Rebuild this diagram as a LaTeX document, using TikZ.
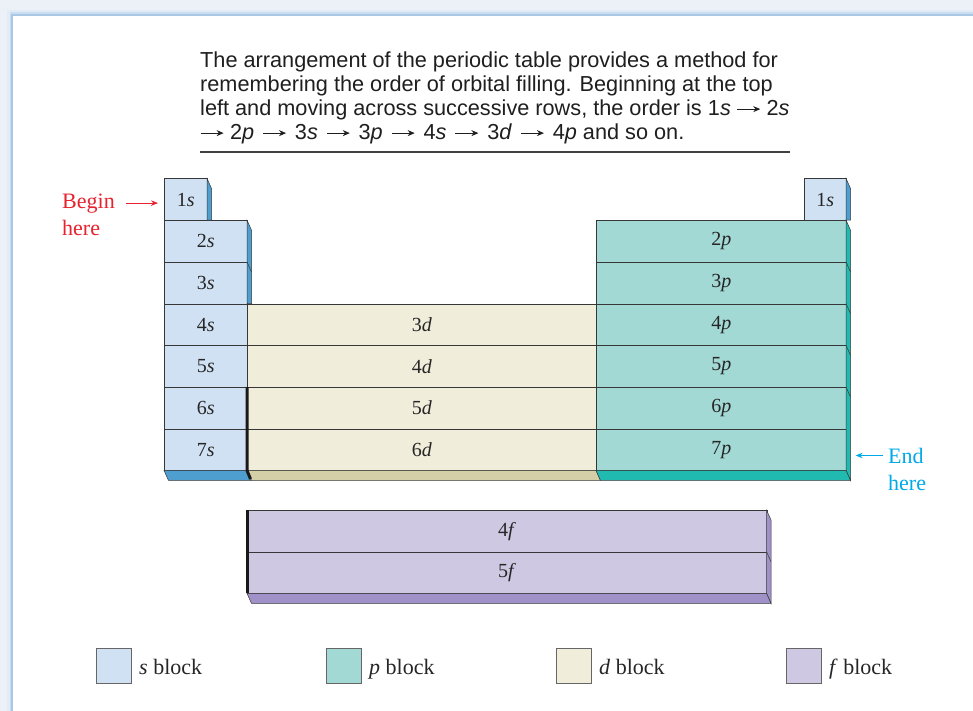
\documentclass[tikz,border=0pt]{standalone}
\usepackage{fontspec}
\setmainfont{Liberation Serif}
\setsansfont{Liberation Sans}
\usetikzlibrary{arrows.meta,positioning}

\definecolor{sfill}{RGB}{208,225,243}
\definecolor{sside}{RGB}{78,158,208}
\definecolor{pfill}{RGB}{163,217,213}
\definecolor{pside}{RGB}{32,186,176}
\definecolor{dfill}{RGB}{241,237,219}
\definecolor{dside}{RGB}{213,207,168}
\definecolor{ffill}{RGB}{206,200,226}
\definecolor{fside}{RGB}{160,146,200}
\definecolor{edge}{RGB}{55,55,55}
\definecolor{beginred}{RGB}{232,34,46}
\definecolor{endblue}{RGB}{0,170,232}
\definecolor{frameblue}{RGB}{168,200,230}
\definecolor{backblue}{RGB}{236,241,248}

% arrow used in the caption text
\newcommand{\goesto}[1][6pt]{\hspace{#1}\tikz[baseline=-0.6ex]\draw[line width=0.8pt,
  -{Stealth[length=7pt, width=6pt]}] (0pt,0pt) -- (23pt,0pt);\hspace{#1}}

\begin{document}
\begin{tikzpicture}[
    x=1pt, y=-1pt,
    cell/.style={draw=edge, line width=0.6pt, inner sep=0pt, anchor=north west,
                 minimum height=41.7pt, text=black!85,
                 font=\fontsize{20}{20}\selectfont},
    face/.style={draw=edge, line width=0.5pt},
    caption/.style={anchor=base west, inner sep=0pt, text=black!88,
                    font=\sffamily\fontsize{21.7}{24}\selectfont},
    note/.style={anchor=base west, inner sep=0pt,
                 font=\fontsize{22}{22}\selectfont},
    legbox/.style={draw=black!60, line width=0.6pt, anchor=north west,
                   minimum size=35pt, inner sep=0pt},
    legtext/.style={anchor=base west, inner sep=0pt, text=black!85,
                    font=\fontsize{22}{22}\selectfont},
]
    \useasboundingbox (0,0) rectangle (973,711);

    % Panel with soft blue frame
    \fill[backblue] (0,0) rectangle (973,711);
    \draw[frameblue!35, line width=10pt] (12,15) rectangle (990,730);
    \draw[frameblue!60, line width=5pt] (12,15) rectangle (990,730);
    \fill[white] (12,15) rectangle (990,730);
    \draw[frameblue, line width=1.5pt] (12,15) rectangle (990,730);

    % Caption
    \node[caption] (cap1) at (200,68) {The arrangement of the periodic table provides a method for};
    \node[caption] (cap2) at (200,92) {remembering the order of orbital filling. Beginning at the top};
    \node[caption] (cap3) at (200,116) {left and moving across successive rows, the order is 1\textit{s}\goesto2\textit{s}};
    \node[caption] (cap4) at (200,140) {\goesto[0pt]\hspace{6pt}2\textit{p}\goesto[8.5pt]3\textit{s}\goesto[8.5pt]3\textit{p}\goesto[8.5pt]4\textit{s}\goesto[8.5pt]3\textit{d}\goesto[8.5pt]4\textit{p} and so on.};
    \draw[black!75, line width=1.2pt] (200,152) -- (790,152);

    % s block
    \node[cell, fill=sfill, minimum width=43pt] (s1) at (164,178.5) {1\textit{s}};
    \foreach \n [evaluate=\n as \y using 178.5+(\n-1)*41.7] in {2,...,7}
      \node[cell, fill=sfill, minimum width=83pt] (s\n) at (164,\y) {\n\textit{s}};
    \node[cell, fill=sfill, minimum width=42pt] (rs1) at (804,178.5) {1\textit{s}};

    % d block
    \foreach \n [evaluate=\n as \y using 178.5+\n*41.7] in {3,...,6}
      \node[cell, fill=dfill, minimum width=349pt] (d\n) at (247,\y) {\n\textit{d}};

    % p block
    \foreach \n [evaluate=\n as \y using 178.5+(\n-1)*41.7] in {2,...,7}
      \node[cell, fill=pfill, minimum width=250pt] (p\n) at (596,\y) {\n\textit{p}};

    % f block
    \node[cell, fill=ffill, minimum width=519.5pt] (f4) at (247,510) {4\textit{f}};
    \node[cell, fill=ffill, minimum width=519.5pt] (f5) at (247,551.7) {5\textit{f}};

    % Side faces
    \draw[face, fill=sside] (207,178.5) -- (211.5,188.5) -- (211.5,220.2) -- (207,220.2) -- cycle;
    \draw[face, fill=sside] (247,220.2) -- (251.5,230.2) -- (251.5,303.6) -- (247,303.6) -- cycle;
    \draw[face] (247,261.9) -- (251.5,271.9);
    \draw[face, fill=sside] (846,178.5) -- (850.5,188.5) -- (850.5,220.2) -- (846,220.2) -- cycle;
    \draw[face, fill=pside] (846,220.2) -- (850.5,230.2) -- (850.5,480.4) -- (846,470.4) -- cycle;
    \foreach \n [evaluate=\n as \y using 178.5+\n*41.7] in {2,...,5}
      \draw[face] (846,\y) -- (850.5,\y+10);
    \draw[face, fill=fside] (766.5,510) -- (771,520) -- (771,603.4) -- (766.5,593.4) -- cycle;
    \draw[face] (766.5,551.7) -- (771,561.7);

    % Bottom faces
    \draw[face, fill=sside] (164,470.4) -- (247,470.4) -- (251.5,480.4) -- (168.5,480.4) -- cycle;
    \draw[face, fill=dside] (247,470.4) -- (596,470.4) -- (600.5,480.4) -- (251.5,480.4) -- cycle;
    \draw[face, fill=pside] (596,470.4) -- (846,470.4) -- (850.5,480.4) -- (600.5,480.4) -- cycle;
    \draw[face, fill=fside] (247,593.4) -- (766.5,593.4) -- (771,603.4) -- (251.5,603.4) -- cycle;

    % Dark edges
    \draw[black!90, line width=3pt] (247,387) -- (247,470.4) -- (250.5,479);
    \draw[black!90, line width=3pt] (247,510) -- (247,593.4);

    % Begin / end markers
    \node[note, text=beginred] (begin) at (62,208) {Begin};
    \node[note, text=beginred] (beginhere) at (62,235) {here};
    \draw[beginred, line width=1pt, -{Stealth[length=7pt, width=5.5pt]},
          shorten <=11pt, shorten >=6pt] (begin.east) -- (begin.east -| s1.west);
    \node[note, text=endblue] (end) at (888,463) {End};
    \node[note, text=endblue] (endhere) at (888,490) {here};
    \draw[endblue, line width=1pt, -{Stealth[length=7pt, width=5.5pt]},
          shorten <=5pt, shorten >=9pt] (end.west) -- (end.west -| p7.east);

    % Legend
    \foreach \blk/\x in {s/96, p/326, d/556, f/786} {
      \node[legbox, fill=\blk fill] (leg\blk) at (\x,648) {};
      \node[legtext] at (\x+43,674) {\textit{\blk} block};
    }
\end{tikzpicture}
\end{document}
